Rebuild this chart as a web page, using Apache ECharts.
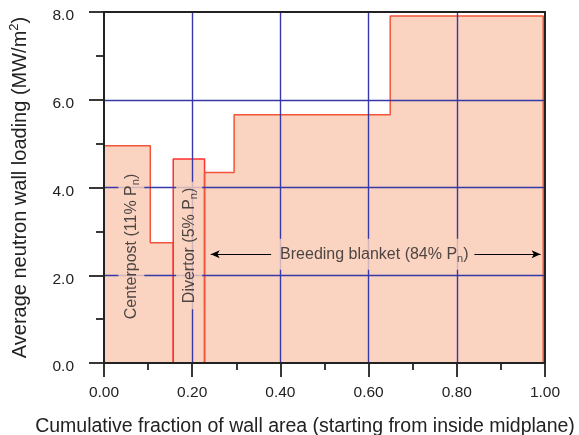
<!DOCTYPE html>
<html><head><meta charset="utf-8">
<script src="https://cdn.jsdelivr.net/npm/echarts@6/dist/echarts.min.js"></script>
<style>html,body{margin:0;padding:0;background:#fff}#c{width:579px;height:435px}</style>
</head><body><div id="c"></div>
<script>
// Step boundaries (cumulative fraction of wall area) and wall loadings (MW/m2)
const centerpostEdges = [0, 0.105, 0.157];
const centerpostLoads = [4.95, 2.74];
const divertorEdges = [0.157, 0.228];
const divertorLoads = [4.65];
const blanketEdges = [0.228, 0.295, 0.649, 0.996];
const blanketLoads = [4.34, 5.66, 7.91];
// Region labels
const labelNames = ['Centerpost (11% P', 'Divertor (5% P', 'Breeding blanket (84% P'];
const labelX = [0.062, 0.193, 0.613];
const labelY = [2.655, 2.68, 2.48];
const labelRotate = [90, 90, 0];
// Arrows for breeding blanket extent
const arrowTail = [0.379, 0.839];
const arrowTip = [0.242, 0.990];
const arrowY = 2.48;

const FONT = 'Liberation Sans, Arial, Helvetica, sans-serif';
const FILL = '#fad3c1';
const EDGE = '#f4553a';
const GRIDC = '#3838a6';
const AX = '#222';

function stepPoints(edges, loads) {
  const pts = [[edges[0], 0]];
  for (let i = 0; i < loads.length; i++) {
    pts.push([edges[i], loads[i]]);
    pts.push([edges[i + 1], loads[i]]);
  }
  pts.push([edges[edges.length - 1], 0]);
  return pts;
}
function region(name, edges, loads, edgeColor) {
  return {
    name: name, type: 'line', z: 2, silent: true,
    data: stepPoints(edges, loads), symbol: 'none',
    lineStyle: { color: edgeColor, width: 1.5 },
    areaStyle: { color: FILL, opacity: 1 }
  };
}
const axisLine = { show: true, onZero: false, lineStyle: { color: AX, width: 2 } };
const tickStyle = { color: AX, width: 1.8 };

const chart = echarts.init(document.getElementById('c'));
chart.setOption({
  animation: false,
  backgroundColor: '#fff',
  textStyle: { fontFamily: FONT },
  grid: { left: 104, right: 34, top: 12, bottom: 72, containLabel: false, outerBoundsMode: 'none' },
  xAxis: [{
    type: 'value', min: 0, max: 1, interval: 0.2, z: 3,
    axisLine: axisLine,
    axisTick: { show: true, length: 14, lineStyle: tickStyle },
    minorTick: { show: true, splitNumber: 2, length: 7, lineStyle: tickStyle },
    axisLabel: { fontSize: 15.5, color: AX, margin: 22, fontFamily: FONT, formatter: v => v.toFixed(2) },
    splitLine: { show: true, showMinLine: false, showMaxLine: false, lineStyle: { color: GRIDC, width: 1.4 } },
    name: 'Cumulative fraction of wall area (starting from inside midplane)',
    nameLocation: 'middle', nameGap: 54,
    nameTextStyle: { fontSize: 19.5, color: AX, fontFamily: FONT, padding: [0, 39, 0, 0] }
  }, {
    type: 'value', position: 'top', min: 0, max: 1, z: 3,
    axisLine: axisLine, axisTick: { show: false }, axisLabel: { show: false }, splitLine: { show: false }
  }],
  yAxis: [{
    type: 'value', min: 0, max: 8, interval: 2, z: 3,
    axisLine: axisLine,
    axisTick: { show: true, length: 15, lineStyle: tickStyle },
    minorTick: { show: true, splitNumber: 2, length: 8, lineStyle: tickStyle },
    axisLabel: { fontSize: 15.5, color: AX, margin: 30, fontFamily: FONT, verticalAlign: 'top', lineHeight: 8, formatter: v => v.toFixed(1) },
    splitLine: { show: true, showMinLine: false, showMaxLine: false, lineStyle: { color: GRIDC, width: 1.4 } },
    name: '{a|Average neutron wall loading (MW/m}{b|2}{a|)}',
    nameLocation: 'middle', nameGap: 72,
    nameTextStyle: {
      rich: {
        a: { fontSize: 20, color: AX, fontFamily: FONT, lineHeight: 24 },
        b: { fontSize: 13, color: AX, fontFamily: FONT, lineHeight: 15, verticalAlign: 'top' }
      }
    }
  }, {
    type: 'value', position: 'right', min: 0, max: 8, z: 3,
    axisLine: axisLine, axisTick: { show: false }, axisLabel: { show: false }, splitLine: { show: false }
  }],
  series: [
    region('Centerpost', centerpostEdges, centerpostLoads, EDGE),
    region('Divertor', divertorEdges, divertorLoads, '#ff3030'),
    region('Breeding blanket', blanketEdges, blanketLoads, EDGE),
    {
      type: 'line', z: 5, silent: true, data: [], symbol: 'none',
      markLine: {
        silent: true, symbol: ['none', 'arrow'], symbolSize: [6, 9],
        lineStyle: { color: '#000', width: 1, type: 'solid' },
        label: { show: false },
        emphasis: { disabled: true },
        data: arrowTail.map((t, i) => [{ coord: [t, arrowY] }, { coord: [arrowTip[i], arrowY] }])
      }
    },
    {
      type: 'scatter', z: 6, silent: true, symbolSize: 0,
      data: labelX.map((x, i) => ({
        value: [x, labelY[i]],
        label: { rotate: labelRotate[i], padding: i === 2 ? [5.5, 6] : [3, 6] }
      })),
      label: {
        show: true, position: 'inside',
        backgroundColor: FILL,
        formatter: p => '{t|' + labelNames[p.dataIndex] + '}{s|n}{t|)}',
        rich: {
          t: { fontSize: 16, color: AX, fontFamily: FONT, lineHeight: 20 },
          s: { fontSize: 11, color: AX, fontFamily: FONT, lineHeight: 10, verticalAlign: 'bottom' }
        }
      }
    }
  ]
});
</script>
</body></html>
